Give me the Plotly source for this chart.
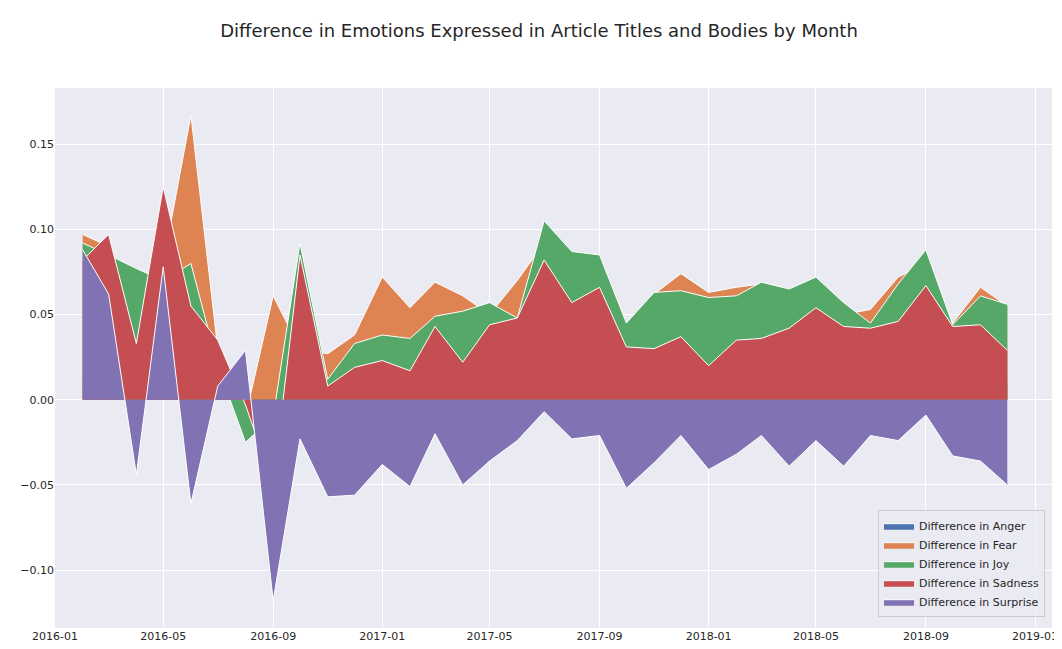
import pandas as pd
import plotly.graph_objects as go

months = pd.date_range("2016-02-01", "2018-12-01", freq="MS")

anger = [0.01, 0.01, 0.005, 0.01, 0.01, 0.005, 0.0, 0.01, 0.01, 0.005, 0.01, 0.01,
         0.005, 0.01, 0.01, 0.01, 0.01, 0.02, 0.01, 0.01, 0.005, 0.01, 0.01, 0.01,
         0.01, 0.01, 0.01, 0.01, 0.01, 0.01, 0.01, 0.02, 0.01, 0.01, 0.01]
fear = [0.097, 0.09, 0.05, 0.08, 0.167, 0.03, -0.01, 0.061, 0.03, 0.027, 0.038, 0.072,
        0.054, 0.069, 0.061, 0.050, 0.070, 0.092, 0.06, 0.06, 0.04, 0.062, 0.074, 0.063,
        0.066, 0.068, 0.062, 0.065, 0.050, 0.053, 0.072, 0.08, 0.045, 0.066, 0.055]
joy = [0.092, 0.085, 0.077, 0.07, 0.080, 0.02, -0.025, -0.01, 0.092, 0.012, 0.033, 0.038,
       0.036, 0.049, 0.052, 0.057, 0.048, 0.105, 0.087, 0.085, 0.045, 0.063, 0.064, 0.060,
       0.061, 0.069, 0.065, 0.072, 0.057, 0.045, 0.068, 0.088, 0.044, 0.061, 0.056]
sadness = [0.082, 0.097, 0.033, 0.125, 0.055, 0.035, -0.003, -0.05, 0.085, 0.008, 0.019, 0.023,
           0.017, 0.043, 0.022, 0.044, 0.048, 0.082, 0.057, 0.066, 0.031, 0.030, 0.037, 0.020,
           0.035, 0.036, 0.042, 0.054, 0.043, 0.042, 0.046, 0.067, 0.043, 0.044, 0.029]
surprise = [0.088, 0.062, -0.044, 0.078, -0.061, 0.008, 0.029, -0.118, -0.023, -0.057, -0.056, -0.038,
            -0.051, -0.020, -0.050, -0.036, -0.024, -0.007, -0.023, -0.021, -0.052, -0.037, -0.021, -0.041,
            -0.032, -0.021, -0.039, -0.024, -0.039, -0.021, -0.024, -0.009, -0.033, -0.036, -0.050]

series = [
    ("Difference in Anger", anger, "#4c72b0"),
    ("Difference in Fear", fear, "#dd8452"),
    ("Difference in Joy", joy, "#55a868"),
    ("Difference in Sadness", sadness, "#c44e52"),
    ("Difference in Surprise", surprise, "#8172b3"),
]

fig = go.Figure()
for name, vals, color in series:
    fig.add_trace(go.Scatter(x=months, y=vals, name=name, mode="lines", fill="tozeroy",
                             fillcolor=color, line=dict(color="white", width=1)))

fig.update_layout(
    width=1062, height=649,
    paper_bgcolor="white", plot_bgcolor="#eaeaf2",
    font=dict(family="DejaVu Sans, Arial", size=11, color="#262626"),
    title=dict(text="Difference in Emotions Expressed in Article Titles and Bodies by Month",
               x=0.5, y=0.975, font=dict(size=18)),
    margin=dict(l=47, r=12, t=80, b=29),
    showlegend=True,
    legend=dict(x=0.993, y=0.02, xanchor="right", yanchor="bottom",
                bgcolor="rgba(234,234,242,0.8)", bordercolor="#cccccc", borderwidth=1,
                font=dict(size=11), traceorder="normal"),
)
fig.update_xaxes(range=["2016-01-01", "2019-01-20"], dtick="M4", tick0="2016-01-01",
                 tickformat="%Y-%m", gridcolor="white", gridwidth=1.2, zeroline=False,
                 showline=False)
fig.update_yaxes(range=[-0.134, 0.183], dtick=0.05, tickformat=".2f", gridcolor="white",
                 gridwidth=1.2, zeroline=False)

fig.write_html("out.html")
